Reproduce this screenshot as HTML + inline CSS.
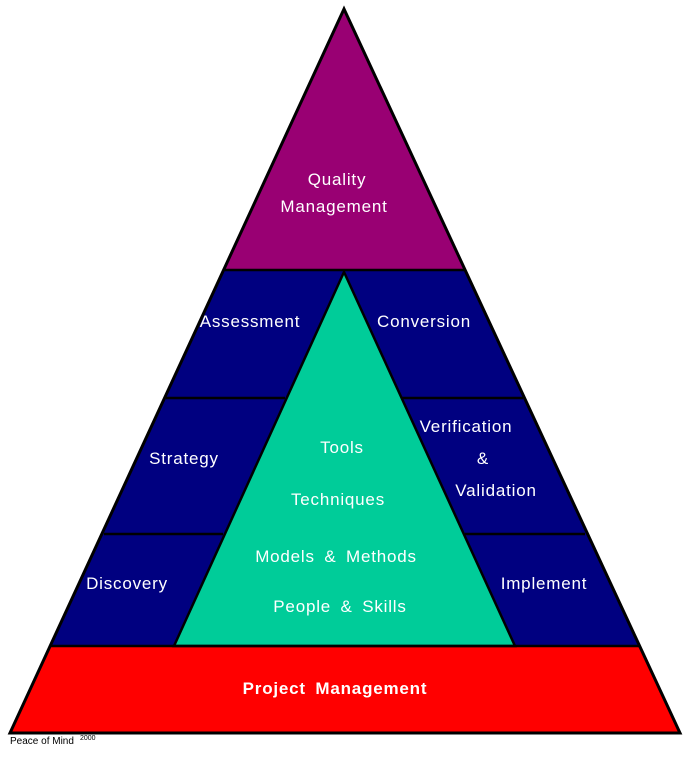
<!DOCTYPE html>
<html><head><style>body{margin:0;background:#fff}svg{display:block}</style></head><body>
<svg width="690" height="758" viewBox="0 0 690 758" xmlns="http://www.w3.org/2000/svg">
<polygon points="344,9 10,733 680,733" fill="#000080"/>
<polygon points="344,9 225,270 464,270" fill="#990073"/>
<polygon points="50,646 10,733 680,733 640,646" fill="#ff0000"/>
<polygon points="344,272 174,646 515,646" fill="#00cc99" stroke="#000" stroke-width="2.5"/>
<g stroke="#000" stroke-width="2.5">
<line x1="225" y1="270" x2="464" y2="270"/>
<line x1="166" y1="398" x2="285" y2="398"/>
<line x1="402" y1="398" x2="523" y2="398"/>
<line x1="104" y1="534" x2="223" y2="534"/>
<line x1="465" y1="534" x2="585" y2="534"/>
<line x1="50" y1="646" x2="640" y2="646"/>
</g>
<polygon points="344,9 10,733 680,733" fill="none" stroke="#000" stroke-width="3"/>
<g fill="#fff" font-family="Liberation Sans, sans-serif" font-size="17" letter-spacing="0.8" word-spacing="4" text-anchor="middle">
<text x="337" y="185">Quality</text>
<text x="334" y="212">Management</text>
<text x="250" y="327">Assessment</text>
<text x="424" y="327">Conversion</text>
<text x="184" y="464">Strategy</text>
<text x="466" y="432">Verification</text>
<text x="483" y="464">&amp;</text>
<text x="496" y="496">Validation</text>
<text x="127" y="589">Discovery</text>
<text x="544" y="589">Implement</text>
<text x="342" y="453">Tools</text>
<text x="338" y="505">Techniques</text>
<text x="336" y="562">Models &amp; Methods</text>
<text x="340" y="612">People &amp; Skills</text>
<text x="335" y="694" font-weight="bold">Project Management</text>
</g>
<text x="10" y="744" font-family="Liberation Sans, sans-serif" font-size="10" fill="#000">Peace of Mind</text>
<text x="80" y="740" font-family="Liberation Sans, sans-serif" font-size="7" fill="#000">2000</text>
</svg>
</body></html>
